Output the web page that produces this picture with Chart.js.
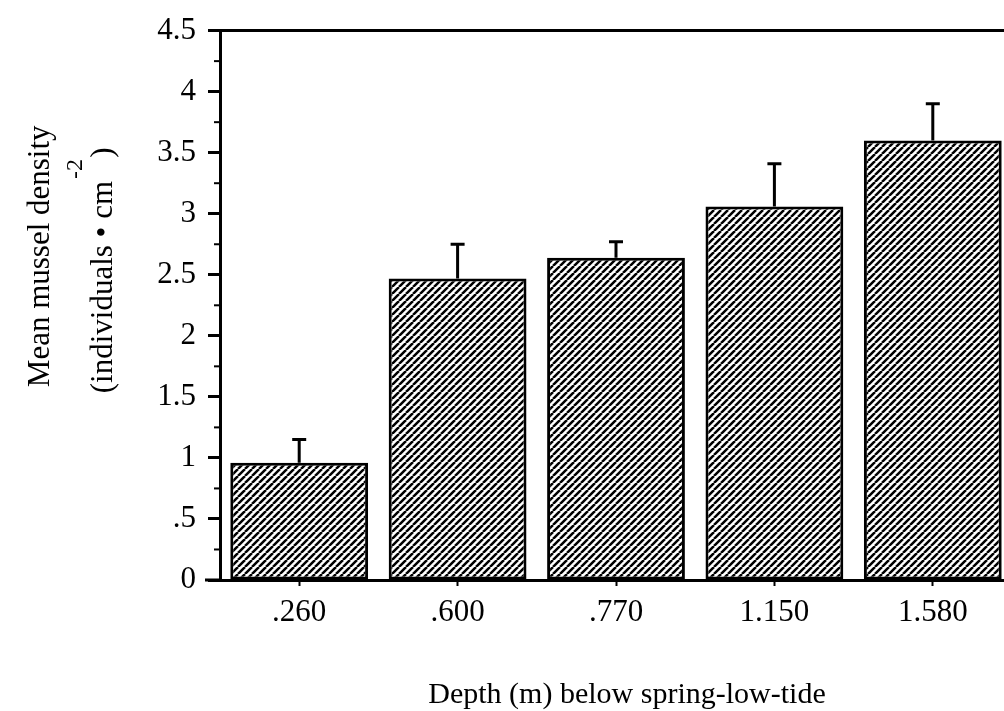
<!DOCTYPE html>
<html>
<head>
<meta charset="utf-8">
<script src="https://cdn.jsdelivr.net/npm/chart.js@4/dist/chart.umd.min.js"></script>
<style>
  html, body { margin: 0; padding: 0; background: #fff; overflow: hidden; }
  #wrap { width: 1020px; height: 711px; position: relative; }
</style>
</head>
<body>
<div id="wrap"><canvas id="chart"></canvas></div>
<script>
// depth below spring-low-tide (m)
const depths = ['.260', '.600', '.770', '1.150', '1.580'];
// mean mussel density and its standard error (upper bar only)
const meanDensity = [0.96, 2.47, 2.64, 3.06, 3.60];
const stdError = [0.19, 0.28, 0.13, 0.35, 0.30];
const yMax = 4.5;

const FONT = '"Liberation Serif", "Times New Roman", serif';

// diagonal hatch fill like the printed figure
const makeHatch = () => {
  const c = document.createElement('canvas');
  c.width = 7;
  c.height = 7;
  const p = c.getContext('2d');
  p.fillStyle = '#fff';
  p.fillRect(0, 0, 7, 7);
  p.strokeStyle = '#000';
  p.lineWidth = 2.5;
  p.beginPath();
  [-7, 0, 7].forEach(off => {
    p.moveTo(off, 7);
    p.lineTo(off + 7, 0);
  });
  p.stroke();
  return p.createPattern(c, 'repeat');
};

const yTickLabel = v => {
  if (v === 0) return '0';
  if (v < 1) return String(v).replace(/^0/, '');
  return String(v);
};

// error bars, minor ticks, top frame line and the axis titles
const extras = {
  id: 'extras',
  afterDatasetsDraw(chart) {
    const ctx = chart.ctx;
    const y = chart.scales.y;
    const meta = chart.getDatasetMeta(0);
    ctx.save();
    ctx.strokeStyle = '#000';
    ctx.lineWidth = 3;
    meta.data.forEach((bar, i) => {
      const top = y.getPixelForValue(meanDensity[i] + stdError[i]);
      ctx.beginPath();
      ctx.moveTo(bar.x, bar.y);
      ctx.lineTo(bar.x, top);
      ctx.moveTo(bar.x - 7, top);
      ctx.lineTo(bar.x + 7, top);
      ctx.stroke();
    });
    ctx.restore();
  },
  afterDraw(chart) {
    const ctx = chart.ctx;
    const area = chart.chartArea;
    const y = chart.scales.y;
    ctx.save();
    ctx.strokeStyle = '#000';

    // minor ticks every .25
    ctx.lineWidth = 2;
    for (let v = 0.25; v < yMax; v += 0.5) {
      const py = y.getPixelForValue(v);
      ctx.beginPath();
      ctx.moveTo(area.left - 6, py);
      ctx.lineTo(area.left, py);
      ctx.stroke();
    }

    // top frame line, and the x axis line running a little past the y axis
    ctx.lineWidth = 3;
    ctx.beginPath();
    ctx.moveTo(area.left - 1, area.top);
    ctx.lineTo(area.right, area.top);
    ctx.moveTo(area.left - 15, area.bottom);
    ctx.lineTo(area.left, area.bottom);
    ctx.stroke();

    // x title, set a little right of the plot centre as in the print
    ctx.fillStyle = '#000';
    ctx.font = '30px ' + FONT;
    ctx.textAlign = 'center';
    ctx.textBaseline = 'alphabetic';
    ctx.fillText('Depth (m) below spring-low-tide', (area.left + area.right) / 2 + 11, 703);

    // rotated y title with superscript
    const cy = (area.top + area.bottom) / 2 - 49;
    ctx.translate(49, cy);
    ctx.rotate(-Math.PI / 2);
    ctx.font = '31px ' + FONT;
    ctx.fillText('Mean mussel density', 0, 0);

    const line2 = '(individuals \u2022 cm   )';
    const head = '(individuals \u2022 cm';
    const w2 = ctx.measureText(line2).width;
    const shift = -14;
    ctx.fillText(line2, shift, 63);
    const supX = shift - w2 / 2 + ctx.measureText(head).width + 2;
    ctx.font = '24px ' + FONT;
    ctx.textAlign = 'left';
    ctx.fillText('-2', supX, 33);
    ctx.restore();
  }
};

new Chart(document.getElementById('chart'), {
  type: 'bar',
  data: {
    labels: depths,
    datasets: [{
      data: meanDensity,
      backgroundColor: makeHatch(),
      borderColor: '#000',
      borderWidth: 3,
      borderSkipped: false,
      barPercentage: 0.87,
      categoryPercentage: 1
    }]
  },
  options: {
    responsive: true,
    maintainAspectRatio: false,
    animation: false,
    layout: { padding: { top: 29, right: 8, left: 0, bottom: 0 } },
    plugins: {
      legend: { display: false },
      tooltip: { enabled: false }
    },
    scales: {
      x: {
        afterFit: s => { s.height = 131; },
        grid: {
          display: true,
          drawOnChartArea: false,
          offset: false,
          tickLength: 6,
          tickWidth: 2,
          tickColor: '#000'
        },
        border: { display: true, color: '#000', width: 3 },
        ticks: {
          color: '#000',
          autoSkip: false,
          maxRotation: 0,
          padding: 8,
          font: { family: FONT, size: 31 }
        }
      },
      y: {
        min: 0,
        max: yMax,
        afterFit: s => { s.width = 220; },
        grid: {
          display: true,
          drawOnChartArea: false,
          tickLength: 12,
          tickWidth: 3,
          tickColor: '#000'
        },
        border: { display: true, color: '#000', width: 3 },
        ticks: {
          stepSize: 0.5,
          autoSkip: false,
          color: '#000',
          padding: 12,
          font: { family: FONT, size: 31 },
          callback: v => yTickLabel(v)
        }
      }
    }
  },
  plugins: [extras]
});
</script>
</body>
</html>
